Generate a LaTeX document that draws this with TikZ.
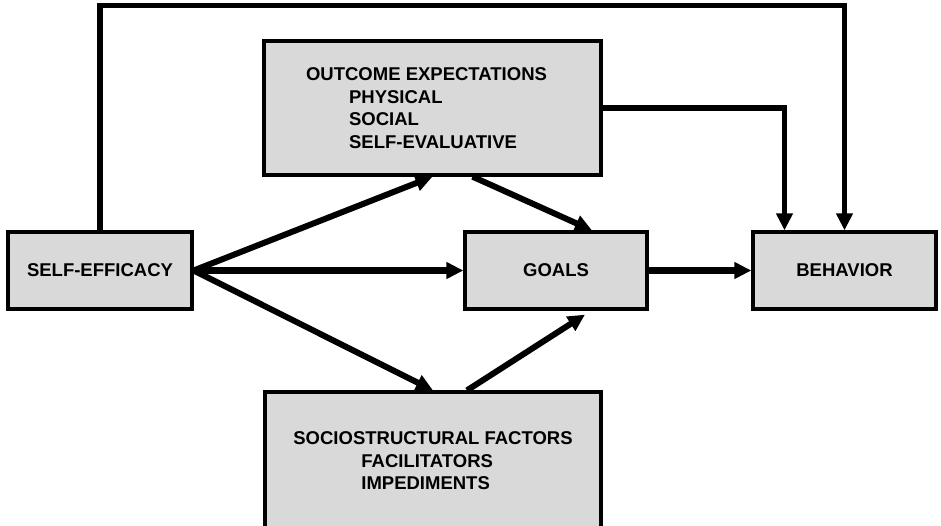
\documentclass[tikz,border=0pt]{standalone}
\usepackage{fontspec}
\setmainfont{Liberation Sans}
\usetikzlibrary{arrows.meta}

\begin{document}
\begin{tikzpicture}[x=1pt, y=-1pt,
  box/.style = {draw, line width=3.3pt, fill=gray!30, font=\bfseries\fontsize{18.5}{22.5}\selectfont},
  arr/.style = {line width=6pt, -{Triangle[length=17pt,width=16pt]}}]
	\useasboundingbox (0,0) rectangle (941,525);
	\node[box, minimum width=184pt, minimum height=77pt] (se) at (100,270.5){SELF-EFFICACY};
	\node[box, minimum width=182pt, minimum height=77pt] (goals) at (556,270.5){GOALS};
	\node[box, minimum width=183pt, minimum height=77pt] (beh) at (844.5,270.5){BEHAVIOR};
	\node[box, align=left, minimum width=337pt, minimum height=134pt] (oe) at (432.5,108){OUTCOME EXPECTATIONS\hspace*{12pt}\\
	  \hspace*{43pt}PHYSICAL\\ \hspace*{43pt}SOCIAL\\ \hspace*{43pt}SELF-EVALUATIVE};
	\node[box, align=left, minimum width=336pt, minimum height=138pt] (sf) at (433,461){SOCIOSTRUCTURAL FACTORS\\
	  \hspace*{68pt}FACILITATORS\\ \hspace*{68pt}IMPEDIMENTS};
	\draw[arr, line width=7pt] (se.east) -- (goals.west);
	\draw[arr] (se.east) -- (oe.south);
	\draw[arr] (se.east) -- (sf.north);
	\draw[arr] ([xshift=40pt]oe.south) -- ([xshift=36pt]goals.north);
	\draw[arr] ([xshift=34pt]sf.north) -- ([xshift=29pt,yshift=-4pt]goals.south);
	\draw[arr, line width=7pt] (goals.east) -- (beh.west);
	\draw[arr, line width=5.5pt] (oe.east) -| ([xshift=-60pt]beh.north);
	\draw[arr, line width=5.5pt] (se.north) -- ++(0,-225) -| (beh.north);
\end{tikzpicture}
\end{document}
